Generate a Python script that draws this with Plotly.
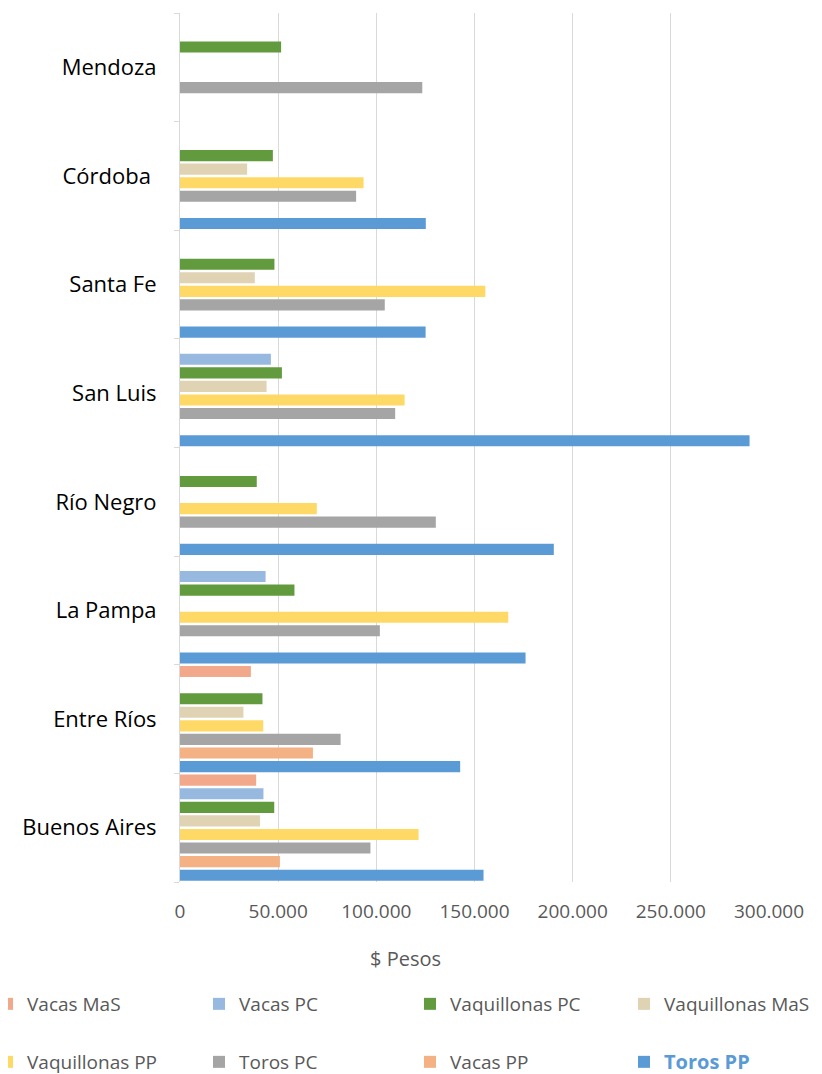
import plotly.graph_objects as go

# provincias de abajo hacia arriba
provincias = ["Buenos Aires", "Entre Ríos", "La Pampa", "Río Negro",
              "San Luis", "Santa Fe", "Córdoba ", "Mendoza"]

# precios en $ por categoria (None = sin dato)
toros_pp = [154600, 142700, 176000, 190400, 290100, 125100, 125200, None]
vacas_pp = [50900, 67700, None, None, None, None, None, None]
toros_pc = [97000, 81800, 101800, 130300, 109600, 104300, 89700, 123400]
vaquillonas_pp = [121500, 42400, 167200, 69700, 114400, 155500, 93500, None]
vaquillonas_mas = [40800, 32300, None, None, 44100, 38100, 34200, None]
vaquillonas_pc = [48000, 42000, 58300, 39100, 51900, 48100, 47300, 51500]
vacas_pc = [42500, None, 43600, None, 46300, None, None, None]
vacas_mas = [38800, 36100, None, None, None, None, None, None]

# nombre, datos, color, (columna, fila) en la leyenda
series = [
    ("Toros PP", toros_pp, "#5B9BD5", (3, 1)),
    ("Vacas PP", vacas_pp, "#F4B183", (2, 1)),
    ("Toros PC", toros_pc, "#A5A5A5", (1, 1)),
    ("Vaquillonas PP", vaquillonas_pp, "#FFD966", (0, 1)),
    ("Vaquillonas MaS", vaquillonas_mas, "#E0D3B4", (3, 0)),
    ("Vaquillonas PC", vaquillonas_pc, "#629B3E", (2, 0)),
    ("Vacas PC", vacas_pc, "#97B9E0", (1, 0)),
    ("Vacas MaS", vacas_mas, "#F1A88B", (0, 0)),
]

# la pagina deja 8px de margen: la figura ocupa 814x1066
W, H = 814, 1066
ML, MR, MT, MB = 172, 53, 5, 192
PW = W - ML - MR
PH = H - MT - MB

col_px = [-21, 191, 402, 616]
fila_px = [996, 1054]

fig = go.Figure()
leyendas = {}

for i, (nombre, valores, color, (col, fila)) in enumerate(series):
    etiqueta = nombre
    if nombre == "Toros PP":
        etiqueta = "<b><span style='color:#5B9BD5;font-size:20px'>Toros PP</span></b>"
    clave = "legend" if i == 0 else f"legend{i + 1}"
    fig.add_trace(
        go.Bar(
            y=provincias,
            x=valores,
            name=etiqueta,
            orientation="h",
            marker=dict(color=color, line=dict(width=0)),
            legend=clave,
        )
    )
    leyendas[clave] = dict(
        orientation="h",
        xref="paper",
        yref="container",
        x=(col_px[col] - ML) / PW,
        y=1 - fila_px[fila] / H,
        xanchor="left",
        yanchor="middle",
        font=dict(size=19, color="#595959"),
    )

fig.update_layout(
    width=W,
    height=H,
    margin=dict(l=ML, r=MR, t=MT, b=MB, autoexpand=False),
    plot_bgcolor="#FFFFFF",
    paper_bgcolor="#FFFFFF",
    font=dict(family="Open Sans", size=16, color="#595959"),
    separators=",.",
    barmode="group",
    bargap=0.0,
    bargroupgap=0.18,
    showlegend=True,
    xaxis=dict(
        range=[0, 300000],
        tickvals=[0, 50000, 100000, 150000, 200000, 250000, 300000],
        tickformat=",d",
        showgrid=True,
        gridcolor="#D9D9D9",
        gridwidth=1,
        zeroline=False,
        showline=False,
        ticks="",
        automargin=False,
        ticklabelstandoff=16,
        tickfont=dict(size=19, color="#595959"),
    ),
    yaxis=dict(
        categoryorder="array",
        categoryarray=provincias,
        tickson="boundaries",
        ticks="outside",
        ticklen=5,
        tickcolor="#D9D9D9",
        showline=True,
        linecolor="#D9D9D9",
        linewidth=1,
        showgrid=False,
        automargin=False,
        ticklabelstandoff=18,
        tickfont=dict(size=22, color="#000000"),
    ),
    annotations=[
        dict(
            text="$ Pesos",
            xref="paper",
            yref="paper",
            x=(405 - 8 - ML) / PW,
            y=-(958 - 882) / PH,
            xanchor="center",
            yanchor="middle",
            showarrow=False,
            font=dict(size=20, color="#595959"),
        )
    ],
    **leyendas,
)

fig.write_html("out.html")
